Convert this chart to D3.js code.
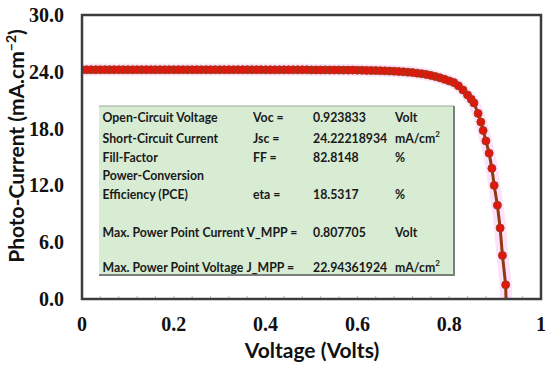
<!DOCTYPE html>
<html>
<head>
<meta charset="utf-8">
<script src="https://cdn.jsdelivr.net/npm/d3@7"></script>
<style>
  html, body { margin: 0; padding: 0; background: #fff; }
  svg { display: block; }
  .tick-label { font-family: 'Liberation Serif', 'DejaVu Serif', 'Times New Roman', Times, serif; font-weight: 700; font-size: 20px; fill: #111; }
  .title { font-family: Lato, 'Open Sans', sans-serif; font-weight: 700; font-size: 21px; fill: #111; }
  .cell { font-family: Lato, 'Open Sans', sans-serif; font-weight: 700; font-size: 12.3px; fill: #1a1a1a; }
</style>
</head>
<body>
<svg id="chart" width="550" height="372"></svg>
<script>
// J-V curve (V in volts, J in mA/cm2)
const voltage = [
  0.00, 0.01, 0.02, 0.03, 0.04, 0.05, 0.06, 0.07, 0.08, 0.09,
  0.10, 0.11, 0.12, 0.13, 0.14, 0.15, 0.16, 0.17, 0.18, 0.19,
  0.20, 0.21, 0.22, 0.23, 0.24, 0.25, 0.26, 0.27, 0.28, 0.29,
  0.30, 0.31, 0.32, 0.33, 0.34, 0.35, 0.36, 0.37, 0.38, 0.39,
  0.40, 0.41, 0.42, 0.43, 0.44, 0.45, 0.46, 0.47, 0.48, 0.49,
  0.50, 0.51, 0.52, 0.53, 0.54, 0.55, 0.56, 0.57, 0.58, 0.59,
  0.60, 0.61, 0.62, 0.63, 0.64, 0.65, 0.66, 0.67, 0.68, 0.69,
  0.70, 0.71, 0.72, 0.73, 0.74, 0.75, 0.76, 0.77, 0.78, 0.79,
  0.80, 0.81, 0.82, 0.83, 0.84, 0.848,
  0.854, 0.863, 0.869, 0.874, 0.880, 0.887, 0.893, 0.898, 0.905, 0.911, 0.916, 0.923, 0.9238
];
const current = [
  24.22, 24.22, 24.22, 24.22, 24.22, 24.22, 24.22, 24.22, 24.22, 24.22,
  24.22, 24.22, 24.22, 24.22, 24.22, 24.22, 24.22, 24.22, 24.22, 24.22,
  24.22, 24.22, 24.22, 24.22, 24.22, 24.22, 24.22, 24.22, 24.22, 24.22,
  24.22, 24.22, 24.22, 24.22, 24.22, 24.22, 24.22, 24.22, 24.22, 24.22,
  24.21, 24.21, 24.21, 24.21, 24.21, 24.21, 24.21, 24.21, 24.21, 24.21,
  24.20, 24.20, 24.20, 24.20, 24.19, 24.19, 24.19, 24.18, 24.18, 24.18,
  24.17, 24.16, 24.15, 24.14, 24.13, 24.12, 24.10, 24.08, 24.06, 24.03,
  24.00, 23.96, 23.92, 23.86, 23.80, 23.72, 23.62, 23.50, 23.36, 23.20,
  23.04, 22.86, 22.52, 22.08, 21.55, 21.10,
  20.7, 19.6, 18.7, 17.8, 16.7, 15.4, 13.8, 12.0, 9.9, 7.5, 4.6, 1.5, 0.0
];

const xTicks = [0, 0.2, 0.4, 0.6, 0.8, 1];
const xTickLabels = ['0', '0.2', '0.4', '0.6', '0.8', '1'];
const yTicks = [0, 6, 12, 18, 24, 30];
const yTickLabels = ['0.0', '6.0', '12.0', '18.0', '24.0', '30.0'];

// inset results table
const paramNames = ['Open-Circuit Voltage', 'Short-Circuit Current', 'Fill-Factor',
  'Power-Conversion', 'Efficiency (PCE)', 'Max. Power Point Current', 'Max. Power Point Voltage'];
const paramSymbols = ['Voc =', 'Jsc =', 'FF =', '', 'eta =', 'V_MPP =', 'J_MPP ='];
const paramValues = ['0.923833', '24.22218934', '82.8148', '', '18.5317', '0.807705', '22.94361924'];
const paramUnits = ['Volt', 'mA/cm|2', '%', '', '%', 'Volt', 'mA/cm|2'];

// ── layout ───────────────────────────────────────────────────────────────────
const svg = d3.select('#chart');
const P = { left: 82, right: 541, top: 15, bottom: 299 };

const x = d3.scaleLinear().domain([0, 1]).range([P.left, P.right]);
const y = d3.scaleLinear().domain([0, 30]).range([P.bottom, P.top]);

const pts = voltage.map((v, i) => [v, current[i]]);

svg.append('defs').append('clipPath').attr('id', 'plot-clip')
  .append('rect')
  .attr('x', P.left).attr('y', P.top - 10)
  .attr('width', P.right - P.left).attr('height', P.bottom - P.top + 10);

// minor ticks along the bottom edge
svg.append('g')
  .selectAll('line')
  .data(d3.range(0, 1.0001, 0.04))
  .enter().append('line')
  .attr('x1', d => x(d)).attr('x2', d => x(d))
  .attr('y1', P.bottom).attr('y2', P.bottom - 3)
  .attr('stroke', '#bbb').attr('stroke-width', 1);

// ── curve ────────────────────────────────────────────────────────────────────
const line = d3.line().x(d => x(d[0])).y(d => y(d[1]));
const cg = svg.append('g').attr('clip-path', 'url(#plot-clip)');

// soft pink halo
cg.append('path').datum(pts).attr('d', line)
  .attr('fill', 'none').attr('stroke', '#fde0f9')
  .attr('stroke-width', 12).attr('stroke-linejoin', 'round').attr('stroke-linecap', 'round');

cg.append('path').datum(pts).attr('d', line)
  .attr('fill', 'none').attr('stroke', '#8e3a12')
  .attr('stroke-width', 3).attr('stroke-linejoin', 'round');

cg.selectAll('circle.pt')
  .data(pts.slice(0, -1))
  .enter().append('circle')
  .attr('class', 'pt')
  .attr('cx', d => x(d[0])).attr('cy', d => y(d[1]))
  .attr('r', 4)
  .attr('fill', '#e0160f')
  .attr('stroke', '#9a3c14').attr('stroke-width', 0.9);

// ── frame ────────────────────────────────────────────────────────────────────
svg.append('rect')
  .attr('x', P.left).attr('y', P.top)
  .attr('width', P.right - P.left).attr('height', P.bottom - P.top)
  .attr('fill', 'none').attr('stroke', '#3c3c3c').attr('stroke-width', 2.5);

// ── tick labels ──────────────────────────────────────────────────────────────
svg.append('g').selectAll('text')
  .data(yTicks)
  .enter().append('text')
  .attr('class', 'tick-label')
  .attr('x', 64).attr('y', d => y(d) + 7)
  .attr('text-anchor', 'end')
  .text((d, i) => yTickLabels[i]);

svg.append('g').selectAll('text')
  .data(xTicks)
  .enter().append('text')
  .attr('class', 'tick-label')
  .attr('x', d => x(d)).attr('y', 331)
  .attr('text-anchor', 'middle')
  .text((d, i) => xTickLabels[i]);

// ── axis titles ──────────────────────────────────────────────────────────────
svg.append('text')
  .attr('class', 'title')
  .attr('x', 312).attr('y', 358)
  .attr('text-anchor', 'middle')
  .text('Voltage (Volts)');

const yt = svg.append('text')
  .attr('class', 'title')
  .attr('transform', 'translate(24,146) rotate(-90)')
  .attr('text-anchor', 'middle');
yt.append('tspan').text('Photo-Current (mA.cm');
yt.append('tspan').style('font-size', '14px').attr('dy', -8).text('\u22122');
yt.append('tspan').attr('dy', 8).text(')');

// ── inset table ──────────────────────────────────────────────────────────────
const box = { x: 99, y: 106, w: 355, h: 169 };
const tg = svg.append('g');
tg.append('rect')
  .attr('x', box.x).attr('y', box.y).attr('width', box.w).attr('height', box.h)
  .attr('fill', '#d7ecd3');
tg.append('line')
  .attr('x1', box.x).attr('x2', box.x + box.w).attr('y1', box.y).attr('y2', box.y)
  .attr('stroke', '#9aa59a').attr('stroke-width', 1);
tg.append('path')
  .attr('d', `M${box.x},${box.y + box.h}H${box.x + box.w}V${box.y}`)
  .attr('fill', 'none').attr('stroke', '#7c807c').attr('stroke-width', 2);

const rowY = [121.5, 142.5, 161.5, 180, 198.5, 236.5, 272];
const symX = [253, 253, 253, 253, 253, 246.5, 246.5];

function cell(g, tx, ty, str) {
  const t = g.append('text').attr('class', 'cell').attr('x', tx).attr('y', ty);
  const [base, sup] = str.split('|');
  t.append('tspan').text(base);
  if (sup) t.append('tspan').style('font-size', '8px').attr('dy', -6).text(sup);
}

paramNames.forEach((name, i) => {
  cell(tg, 102.5, rowY[i], name);
  if (paramSymbols[i]) cell(tg, symX[i], rowY[i], paramSymbols[i]);
  if (paramValues[i]) cell(tg, 313, rowY[i], paramValues[i]);
  if (paramUnits[i]) cell(tg, 395, rowY[i], paramUnits[i]);
});
</script>
</body>
</html>
